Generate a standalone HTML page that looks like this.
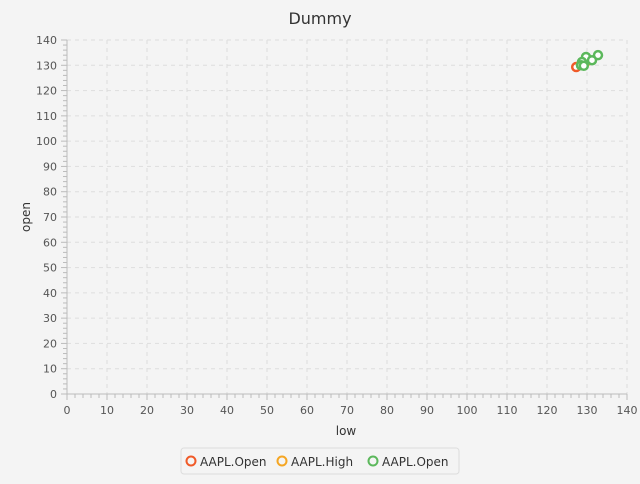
<!DOCTYPE html>
<html><head><meta charset="utf-8"><style>
body{margin:0;background:#f4f4f4;font-family:"DejaVu Sans","Liberation Sans",sans-serif}
svg text{font-family:"DejaVu Sans","Liberation Sans",sans-serif}
</style></head><body>
<svg id="c" width="640" height="480">
<rect width="640" height="480" fill="#f4f4f4"/>
<text x="320" y="24" text-anchor="middle" font-size="16" fill="#333">Dummy</text>
<g id="grid"></g><g id="axes"></g><g id="marks"></g>
<text x="346" y="435" text-anchor="middle" font-size="12" fill="#333">low</text>
<text transform="translate(30,217) rotate(-90)" text-anchor="middle" font-size="12" fill="#333">open</text>
<g>
<rect x="181" y="448" width="278" height="26" rx="3" fill="#f4f4f4" stroke="#ddd"/>
<circle cx="191" cy="461" r="4.5" fill="none" stroke="#f05a28" stroke-width="2"/>
<text x="200" y="466" font-size="12" fill="#333">AAPL.Open</text>
<circle cx="282" cy="461" r="4.5" fill="none" stroke="#f5a623" stroke-width="2"/>
<text x="291" y="466" font-size="12" fill="#333">AAPL.High</text>
<circle cx="373" cy="461" r="4.5" fill="none" stroke="#5cb85c" stroke-width="2"/>
<text x="382" y="466" font-size="12" fill="#333">AAPL.Open</text>
</g>
</svg>
<script>
const s1x=[127.3];const s1y=[129.3];
const s2x=[128.5,129.5];const s2y=[130.2,131];
const s3x=[129.75,132.75,131.25,128.75,128.5,129.2];
const s3y=[133.3,134,132,131.3,130,129.8];
const ticks=[0,10,20,30,40,50,60,70,80,90,100,110,120,130,140];
const X=v=>67+v*4, Y=v=>394-v*354/140;
const ns="http://www.w3.org/2000/svg";
function mk(p,t,a){const e=document.createElementNS(ns,t);for(const k in a)e.setAttribute(k,a[k]);document.getElementById(p).appendChild(e);return e;}
ticks.forEach(t=>{
 if(t>0){let g=mk('grid','line',{x1:X(t),x2:X(t),y1:40,y2:394,stroke:'#ddd','stroke-dasharray':'4,4'});
 
 g=mk('grid','line',{x1:67,x2:627,y1:Y(t),y2:Y(t),stroke:'#ddd','stroke-dasharray':'4,4'});
 }
 let l=mk('axes','text',{x:X(t),y:414,'text-anchor':'middle','font-size':11,fill:'#555'});l.textContent=t;
 
 l=mk('axes','text',{x:57,y:Y(t)+4,'text-anchor':'end','font-size':11,fill:'#555'});l.textContent=t;
 
});
for(let v=0;v<=140;v+=2){const m=v%10==0;
 mk('axes','line',{x1:X(v),x2:X(v),y1:394,y2:394+(m?6:4),stroke:'#bbb'});
 mk('axes','line',{x1:67,x2:67-(m?6:4),y1:Y(v),y2:Y(v),stroke:'#bbb'});}
mk('axes','line',{x1:67,x2:627,y1:394,y2:394,stroke:'#bbb'});
mk('axes','line',{x1:67,x2:67,y1:40,y2:394,stroke:'#bbb'});
[[s1x,s1y,'#f05a28'],[s2x,s2y,'#f5a623'],[s3x,s3y,'#5cb85c']].forEach(([xs,ys,c])=>{
 xs.forEach((x,i)=>{const p=mk('marks','circle',{cx:X(x),cy:Y(ys[i]),r:4,fill:'#fff',stroke:c,'stroke-width':2.5});
 });});
</script>
</body></html>
